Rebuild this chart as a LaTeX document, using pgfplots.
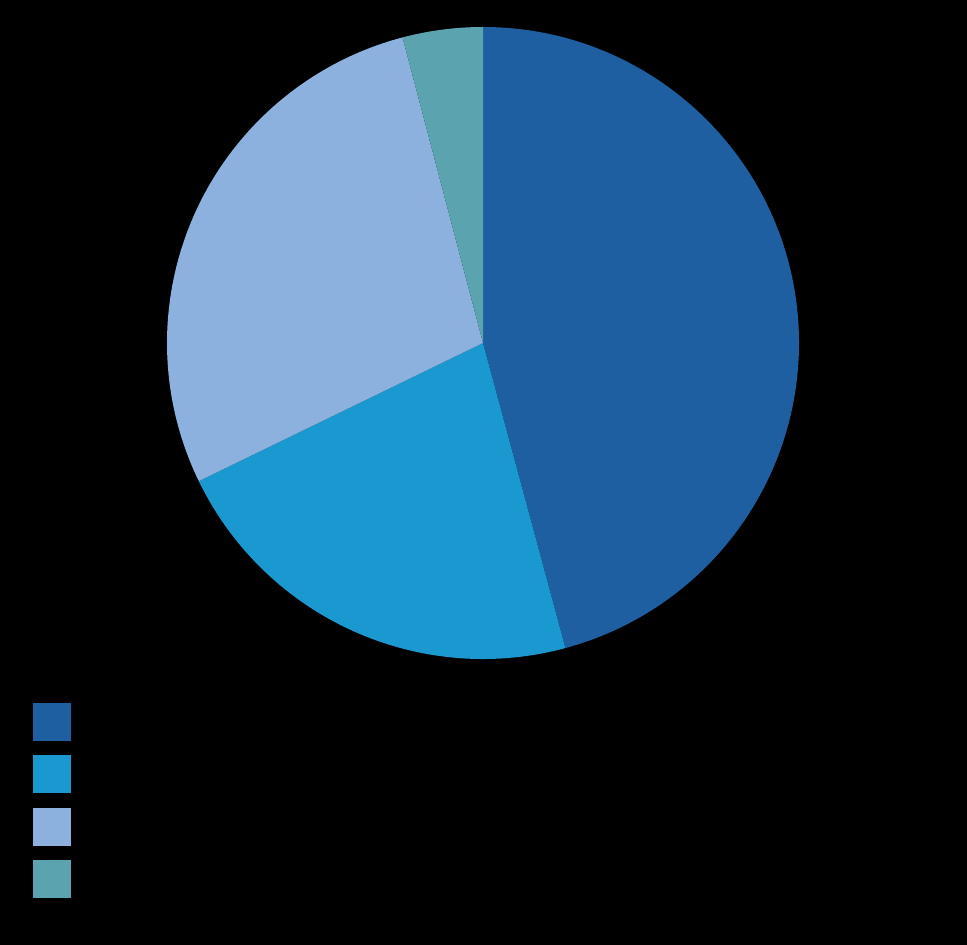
\documentclass[border=0pt]{standalone}
\usepackage{pgfplots}
\usepackage{pgfplotstable}
\pgfplotsset{compat=1.18}

\definecolor{sdark}{HTML}{1D5FA0}
\definecolor{smid}{HTML}{1A98D0}
\definecolor{slight}{HTML}{8DB1DE}
\definecolor{steal}{HTML}{5BA3AF}

% shares in percent, clockwise from 12 o'clock
\pgfplotstableread{
share
45.8
22.0
28.1
4.1
}\piedata

\begin{document}
\begin{tikzpicture}
\pgfplotstablegetelem{0}{share}\of\piedata \let\sA\pgfplotsretval
\pgfplotstablegetelem{1}{share}\of\piedata \let\sB\pgfplotsretval
\pgfplotstablegetelem{2}{share}\of\piedata \let\sC\pgfplotsretval
\pgfplotstablegetelem{3}{share}\of\piedata \let\sD\pgfplotsretval
\pgfmathsetmacro\aA{90-3.6*\sA}
\pgfmathsetmacro\aB{\aA-3.6*\sB}
\pgfmathsetmacro\aC{\aB-3.6*\sC}
\pgfmathsetmacro\aD{\aC-3.6*\sD}
\begin{axis}[
    scale only axis,
    width=725.25pt, height=708.75pt,
    xmin=0, xmax=967, ymin=0, ymax=945,
    hide axis, clip=false,
    legend image code/.code={\fill[#1] (0pt,-14.25pt) rectangle (28.5pt,14.25pt);},
    legend style={at={(axis cs:33,242)}, anchor=north west,
        draw=none, fill=none, inner sep=0pt, outer sep=0pt,
        row sep=10.7pt, text=black},
]
\fill[black] (axis cs:0,0) rectangle (axis cs:967,945);
\fill[sdark]  (axis cs:483,602) -- ++(90:237pt)  arc[start angle=90,  end angle=\aA, radius=237pt] -- cycle;
\fill[smid]   (axis cs:483,602) -- ++(\aA:237pt) arc[start angle=\aA, end angle=\aB, radius=237pt] -- cycle;
\fill[slight] (axis cs:483,602) -- ++(\aB:237pt) arc[start angle=\aB, end angle=\aC, radius=237pt] -- cycle;
\fill[steal]  (axis cs:483,602) -- ++(\aC:237pt) arc[start angle=\aC, end angle=\aD, radius=237pt] -- cycle;
\addlegendimage{fill=sdark, draw=none}  \addlegendentry{}
\addlegendimage{fill=smid, draw=none}   \addlegendentry{}
\addlegendimage{fill=slight, draw=none} \addlegendentry{}
\addlegendimage{fill=steal, draw=none}  \addlegendentry{}
\end{axis}
\end{tikzpicture}
\end{document}
